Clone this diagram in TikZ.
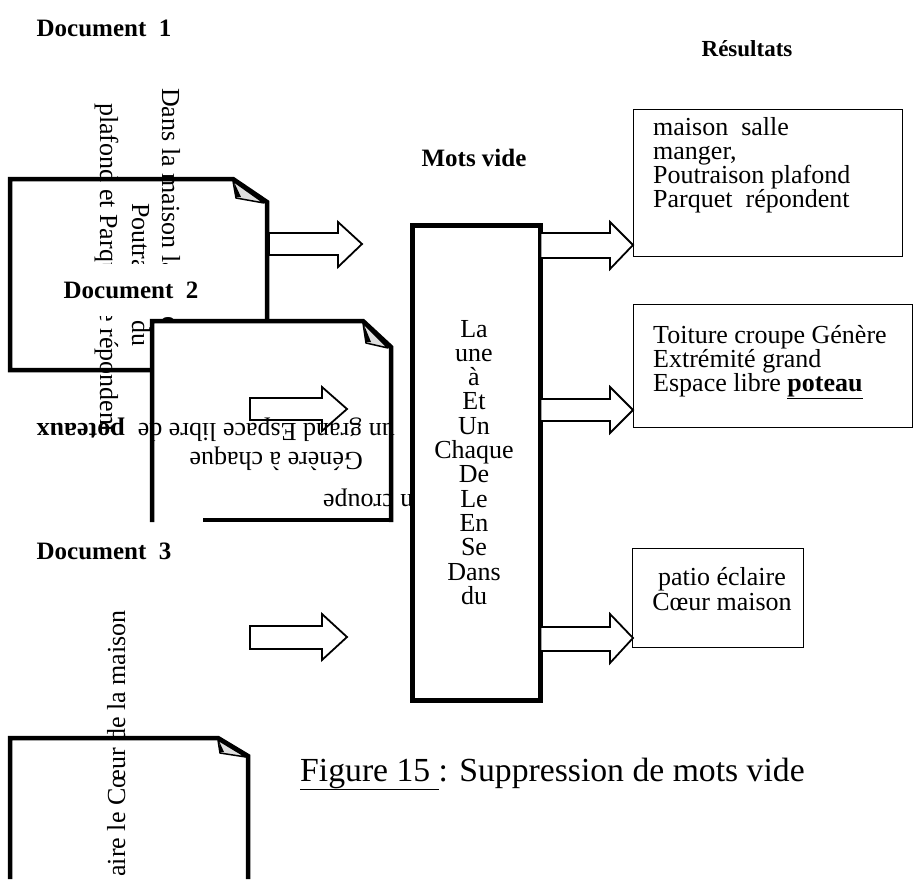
\documentclass[tikz,border=0pt]{standalone}
\usepackage{fontspec}
\setmainfont{Liberation Serif}
\begin{document}
\begin{tikzpicture}[x=1pt,y=-1pt,
  doc/.style={line width=4.5pt, line join=miter},
  fold/.style={fill=gray!25, draw=black, line width=1.5pt, line join=round},
  barrow/.style={draw=black, fill=white, line width=1.8pt, line join=miter},
  rbox/.style={draw=black, line width=1.4pt, inner sep=0pt, anchor=north west},
  body/.style={font=\fontsize{26}{24}\selectfont, inner sep=0pt},
  lbl/.style={font=\fontsize{25}{28}\selectfont\bfseries, inner sep=0pt},
]
\useasboundingbox (0,0) rectangle (916,879);
\fill[white] (0,0) rectangle (916,879);

% ---- Document 1 (rotated text)
\node[body, rotate=-90, anchor=base west] (d1a) at (162,88) {Dans la maison la salle à manger,};
\node[body, rotate=-90, anchor=base west] (d1b) at (132,203) {Poutraison du};
\node[body, rotate=-90, anchor=base west] (d1c) at (100,103) {plafond et Parquet se répondent};
\node[lbl, fill=white, inner ysep=18pt, inner xsep=2pt] (doc2lbl) at (131,290) {Document~~2};
\draw[doc] (152,370) -- (10,370) -- (10,179) -- (233,179) -- (267,202) -- (267,321);
\draw[fold] (233,181) -- (236,198) -- (264,203) -- cycle;
\fill (234,182) -- (236,197) -- (241,197) -- cycle;

% ---- Document 2
\fill[white] (152,321) -- (363,321) -- (391,347) -- (391,520) -- (152,520) -- cycle;
\draw[barrow] (250,398) -- (322,398) -- (322,387) -- (347,409) -- (322,431) -- (322,420) -- (250,420) -- cycle;
\node[body, rotate=180, anchor=west] (d2c) at (395,430) {un grand Espace libre de\ \ \textbf{poteaux}};
\node[body, rotate=180, anchor=west] (d2b) at (363,459) {Génère à chaque};
\node[body, rotate=180, anchor=west] (d2a) at (425,498) {en croupe};
\draw[doc] (152,522) -- (152,321) -- (363,321) -- (391,347) -- (391,522);
\draw[doc] (203,520) -- (391,520);
\draw[fold] (363,323) -- (366,343) -- (388,348) -- cycle;
\fill (364,325) -- (366,342) -- (371,342) -- cycle;

% ---- Mots vides box
\node[draw, line width=5pt, fill=white, inner sep=0pt, anchor=north west,
      minimum width=128pt, minimum height=475pt] (mid) at (410,223) {};
\foreach \w [count=\i from 0] in {La,une,à,Et,Un,Chaque,De,Le,En,Se,Dans,du}
  \node[body, anchor=base] (w\i) at (474,{337+24.3*\i}) {\w};

% ---- arrows
\draw[barrow] (269,233) -- (338,233) -- (338,222) -- (362,244) -- (338,267) -- (338,255) -- (269,255) -- cycle;
\draw[barrow] (540.5,233) -- (610,233) -- (610,222) -- (633,245) -- (610,269) -- (610,258) -- (540.5,258) -- cycle;
\draw[barrow] (540.5,399) -- (610,399) -- (610,387) -- (633,410) -- (610,433) -- (610,421) -- (540.5,421) -- cycle;
\draw[barrow] (540.5,627) -- (610,627) -- (610,614) -- (633,638) -- (610,663) -- (610,651) -- (540.5,651) -- cycle;

% ---- results
\node[rbox, minimum width=269pt, minimum height=147pt] (r1) at (633,109) {};
\node[body, anchor=base west] (r1a) at (653,135) {maison\ \ salle};
\node[body, anchor=base west] (r1b) at (653,159) {manger,};
\node[body, anchor=base west] (r1c) at (653,183) {Poutraison plafond};
\node[body, anchor=base west] (r1d) at (653,207) {Parquet\ \ répondent};

\node[rbox, minimum width=279pt, minimum height=123pt] (r2) at (633,304) {};
\node[body, anchor=base west] (r2a) at (653,343) {Toiture croupe Génère};
\node[body, anchor=base west] (r2b) at (653,367) {Extrémité grand};
\node[body, anchor=base west] (r2c) at (653,391) {Espace libre \underline{\textbf{poteau}}};

\node[rbox, minimum width=171pt, minimum height=99pt] (r3) at (632,548) {};
\node[body, anchor=base] (r3a) at (722,585) {patio éclaire};
\node[body, anchor=base] (r3b) at (722,610) {Cœur maison};

% ---- Document 3
\node[body, rotate=90, anchor=base east] (d3) at (125,610) {aire le Cœur de la maison};
\draw[doc] (10,879) -- (10,738) -- (218,738) -- (248,756) -- (248,879);
\draw[fold] (218,740) -- (220,753) -- (246,757) -- cycle;
\fill (219,741) -- (220,752) -- (224,752) -- cycle;
\draw[barrow] (250,626) -- (322,626) -- (322,614) -- (347,637) -- (322,660) -- (322,649) -- (250,649) -- cycle;

% ---- labels
\node[lbl] (doc1lbl) at (104,28) {Document~~1};
\node[lbl] (doc3lbl) at (104,551) {Document~~3};
\node[lbl, font=\fontsize{23}{26}\selectfont\bfseries] (res) at (747,49) {Résultats};
\node[lbl] (mots) at (474,158) {Mots vide};
\node[font=\fontsize{33.7}{38}\selectfont, anchor=base west, inner sep=0pt] (cap) at (300,781) {\underline{Figure 15\ }: Suppression de mots vide};
\end{tikzpicture}
\end{document}
